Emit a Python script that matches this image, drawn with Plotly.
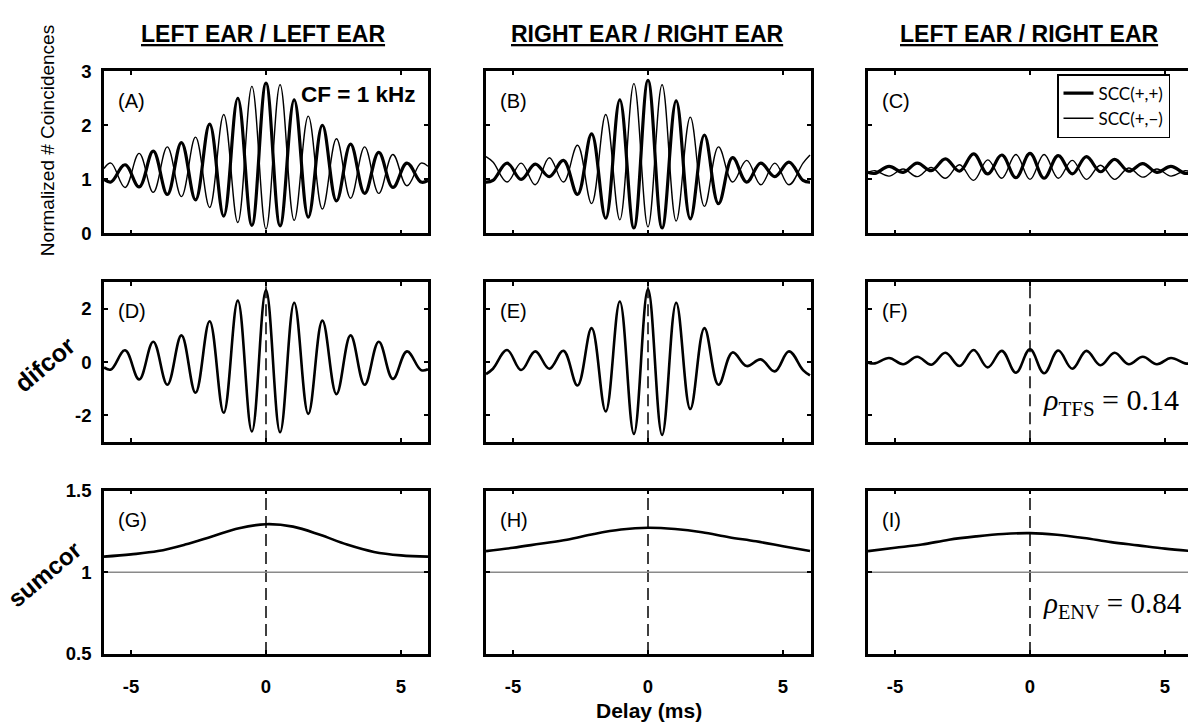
import plotly.graph_objects as go
from plotly.subplots import make_subplots

W, H = 1188, 727

# Delays (ms) at the successive peaks / troughs of the 1-kHz fine structure
DELAY_OSC = [-6.0, -5.742, -5.22, -4.698, -4.176, -3.654, -3.132, -2.61, -2.088, -1.566, -1.044, -0.522, 0.0,
             0.522, 1.044, 1.566, 2.088, 2.61, 3.132, 3.654, 4.176, 4.698, 5.22, 5.742, 6.0]
# Delays (ms) for the slowly varying envelope (sumcor) curves
DELAY_ENV = [-6, -5, -4, -3, -2, -1, 0, 1, 2, 3, 4, 5, 6]

# Shuffled correlograms, normalized # coincidences
SCC_PP_LL = [1.00, 0.95, 1.27, 0.86, 1.52, 0.72, 1.68, 0.62, 2.02, 0.32, 2.50, 0.15, 2.78,
             0.14, 2.47, 0.30, 2.00, 0.60, 1.65, 0.74, 1.50, 0.85, 1.30, 0.95, 0.98]
SCC_PM_LL = [1.20, 1.30, 0.85, 1.48, 0.76, 1.60, 0.68, 1.78, 0.48, 2.20, 0.20, 2.72, 0.08,
             2.75, 0.24, 2.17, 0.45, 1.75, 0.65, 1.60, 0.74, 1.46, 0.88, 1.30, 1.24]
SCC_PP_RR = [0.95, 0.98, 1.30, 1.00, 1.28, 1.05, 1.35, 0.72, 1.84, 0.28, 2.47, 0.10, 2.83,
             0.10, 2.45, 0.27, 1.82, 0.55, 1.40, 0.95, 1.30, 1.05, 1.32, 0.98, 0.95]
SCC_PM_RR = [1.42, 1.32, 0.95, 1.30, 0.90, 1.40, 0.95, 1.63, 0.55, 2.20, 0.25, 2.77, 0.12,
             2.75, 0.23, 2.15, 0.50, 1.60, 0.95, 1.35, 0.90, 1.30, 0.90, 1.30, 1.45]
SCC_PP_LR = [1.13, 1.11, 1.24, 1.13, 1.30, 1.16, 1.38, 1.15, 1.47, 1.10, 1.45, 1.03, 1.48,
             1.02, 1.44, 1.10, 1.42, 1.14, 1.37, 1.15, 1.29, 1.13, 1.24, 1.11, 1.13]
SCC_PM_LR = [1.13, 1.16, 1.06, 1.19, 1.05, 1.22, 1.02, 1.27, 0.98, 1.36, 1.02, 1.46, 1.00,
             1.46, 1.02, 1.35, 1.00, 1.26, 1.00, 1.21, 1.04, 1.19, 1.06, 1.16, 1.13]

# difcor = SCC(+,+) - SCC(+,-)
DIFCOR_LL = [-0.20, -0.28, 0.44, -0.65, 0.76, -0.85, 1.00, -1.15, 1.53, -1.90, 2.30, -2.60, 2.70,
             -2.63, 2.22, -1.94, 1.55, -1.20, 1.00, -0.85, 0.76, -0.63, 0.40, -0.30, -0.27]
DIFCOR_RR = [-0.45, -0.25, 0.45, -0.30, 0.40, -0.25, 0.42, -0.88, 1.27, -1.85, 2.27, -2.69, 2.73,
             -2.73, 2.22, -1.76, 1.27, -0.85, 0.36, -0.15, 0.10, -0.35, 0.40, -0.30, -0.50]
DIFCOR_LR = [-0.02, -0.05, 0.15, -0.08, 0.20, -0.10, 0.35, -0.15, 0.45, -0.20, 0.42, -0.40, 0.48,
             -0.42, 0.43, -0.25, 0.42, -0.12, 0.35, -0.08, 0.20, -0.08, 0.15, -0.05, -0.05]

# sumcor = mean of SCC(+,+) and SCC(+,-) envelopes
SUMCOR_LL = [1.096, 1.11, 1.13, 1.17, 1.22, 1.27, 1.295, 1.28, 1.23, 1.17, 1.125, 1.104, 1.096]
SUMCOR_RR = [1.13, 1.15, 1.175, 1.20, 1.235, 1.262, 1.273, 1.265, 1.245, 1.215, 1.19, 1.16, 1.13]
SUMCOR_LR = [1.13, 1.15, 1.17, 1.20, 1.22, 1.235, 1.24, 1.23, 1.21, 1.185, 1.165, 1.145, 1.13]

COLUMN_TITLES = ["LEFT EAR / LEFT EAR", "RIGHT EAR / RIGHT EAR", "LEFT EAR / RIGHT EAR"]
PANEL_LABELS = [["(A)", "(B)", "(C)"], ["(D)", "(E)", "(F)"], ["(G)", "(H)", "(I)"]]
ROW_TITLES = ["Normalized # Coincidences", "difcor", "sumcor"]
RHO_TFS = 0.14
RHO_ENV = 0.84
CF_TEXT = "CF = 1 kHz"
X_TICKS = [-5, 0, 5]
X_TICKTEXT = ["-5", "0", "5"]
Y_TICKS = [[0, 1, 2, 3], [-2, 0, 2], [0.5, 1, 1.5]]
Y_TICKTEXT = [["0", "1", "2", "3"], ["-2", "0", "2"], ["0.5", "1", "1.5"]]
Y_RANGES = [[0, 3], [-3, 3], [0.5, 1.5]]

# layout in pixels
COL_PX = [(104, 428), (486, 811), (868, W)]
ROW_PX = [(62, 229), (279, 444), (494, 662)]
PX_PER_MS = 324 / 12.0


def fx(px):
    return px / W


def fy(py):
    return 1 - py / H


SANS = "Liberation Sans"
fig = make_subplots(rows=3, cols=3)

scc = [(SCC_PP_LL, SCC_PM_LL), (SCC_PP_RR, SCC_PM_RR), (SCC_PP_LR, SCC_PM_LR)]
for c, (pp, pm) in enumerate(scc):
    fig.add_trace(go.Scatter(x=DELAY_OSC, y=pm, mode="lines", name="SCC(+,\u2212)",
                             line=dict(color="black", width=1.4, shape="spline", smoothing=1.1),
                             showlegend=(c == 0), legendrank=2), row=1, col=c + 1)
    fig.add_trace(go.Scatter(x=DELAY_OSC, y=pp, mode="lines", name="SCC(+,+)",
                             line=dict(color="black", width=3.2, shape="spline", smoothing=1.1),
                             showlegend=(c == 0), legendrank=1), row=1, col=c + 1)

for c, d in enumerate([DIFCOR_LL, DIFCOR_RR, DIFCOR_LR]):
    fig.add_trace(go.Scatter(x=DELAY_OSC, y=d, mode="lines", showlegend=False,
                             line=dict(color="black", width=2.6, shape="spline", smoothing=1.1)),
                  row=2, col=c + 1)

for c, s in enumerate([SUMCOR_LL, SUMCOR_RR, SUMCOR_LR]):
    fig.add_trace(go.Scatter(x=DELAY_ENV, y=s, mode="lines", showlegend=False,
                             line=dict(color="black", width=2.6, shape="spline", smoothing=1.0)),
                  row=3, col=c + 1)

tickfont = dict(family=SANS, size=18.5, color="black", weight="bold")
for r in range(3):
    for c in range(3):
        idx = r * 3 + c + 1
        xa = "xaxis" if idx == 1 else f"xaxis{idx}"
        ya = "yaxis" if idx == 1 else f"yaxis{idx}"
        x0, x1 = COL_PX[c]
        y0, y1 = ROW_PX[r]
        xmax = -6 + (x1 - x0) / PX_PER_MS
        fig.layout[xa].update(
            domain=[fx(x0), fx(x1)], range=[-6, xmax], tickvals=X_TICKS, ticktext=X_TICKTEXT,
            showticklabels=(r == 2), ticks="inside", ticklen=4, tickwidth=2, tickcolor="black",
            showline=True, linewidth=2.5, linecolor="black", mirror="ticks",
            showgrid=False, zeroline=False, tickfont=tickfont, ticklabelstandoff=14)
        fig.layout[ya].update(
            domain=[fy(y1), fy(y0)], range=Y_RANGES[r], tickvals=Y_TICKS[r], ticktext=Y_TICKTEXT[r],
            showticklabels=(c == 0), ticks="inside", ticklen=4, tickwidth=2, tickcolor="black",
            showline=True, linewidth=2.5, linecolor="black", mirror=("ticks" if c < 2 else False),
            showgrid=False, zeroline=False, tickfont=tickfont, ticklabelstandoff=6)

        if r >= 1:
            fig.add_shape(type="line", xref=xa.replace("axis", ""), yref=f"{ya.replace('axis', '')} domain",
                          x0=0, x1=0, y0=0, y1=1, layer="below",
                          line=dict(color="black", width=1.5, dash="12px,6px"))
        if r == 2:
            fig.add_shape(type="line", xref=f"{xa.replace('axis', '')} domain", yref=ya.replace("axis", ""),
                          x0=0, x1=1, y0=1, y1=1, layer="below",
                          line=dict(color="#8a8a8a", width=1.6))

annotations = []
# column headings
for c, t in enumerate(COLUMN_TITLES):
    cx = [263, 647, 1029][c]
    annotations.append(dict(x=fx(cx), y=fy(24), xref="paper", yref="paper", text=f"<b>{t}</b>",
                            showarrow=False, xanchor="center", yanchor="middle",
                            font=dict(family=SANS, size=23, color="black", lineposition="under")))
# panel letters
for r in range(3):
    for c in range(3):
        lx = COL_PX[c][0] + 12
        ly = [93, 309, 524][r]
        annotations.append(dict(x=fx(lx), y=fy(ly), xref="paper", yref="paper", text=PANEL_LABELS[r][c],
                                showarrow=False, xanchor="left", yanchor="middle",
                                font=dict(family=SANS, size=20, color="black")))
# row titles
annotations.append(dict(x=fx(47), y=fy(134), xref="paper", yref="paper", text=ROW_TITLES[0],
                        showarrow=False, textangle=-90, xanchor="center", yanchor="middle",
                        font=dict(family=SANS, size=19, color="black")))
annotations.append(dict(x=fx(45), y=fy(364), xref="paper", yref="paper", text=f"<b>{ROW_TITLES[1]}</b>",
                        showarrow=False, textangle=-40, xanchor="center", yanchor="middle",
                        font=dict(family=SANS, size=25, color="black")))
annotations.append(dict(x=fx(44), y=fy(580), xref="paper", yref="paper", text=f"<b>{ROW_TITLES[2]}</b>",
                        showarrow=False, textangle=-40, xanchor="center", yanchor="middle",
                        font=dict(family=SANS, size=24, color="black")))
# CF label
annotations.append(dict(x=fx(417), y=fy(86), xref="paper", yref="paper", text=f"<b>{CF_TEXT}</b>",
                        showarrow=False, xanchor="right", yanchor="middle",
                        font=dict(family=SANS, size=22.5, color="black")))
# correlation indices
SERIF = "Liberation Serif"
annotations.append(dict(x=fx(1041), y=fy(403), xref="paper", yref="paper",
                        text=f"<i>\u03c1</i><sub>TFS</sub> = {RHO_TFS:.2f}",
                        showarrow=False, xanchor="left", yanchor="middle",
                        font=dict(family=SERIF, size=30, color="black")))
annotations.append(dict(x=fx(1041), y=fy(612), xref="paper", yref="paper",
                        text=f"<i>\u03c1</i><sub>ENV</sub> = {RHO_ENV:.2f}",
                        showarrow=False, xanchor="left", yanchor="middle",
                        font=dict(family=SERIF, size=29, color="black")))
# shared x title
annotations.append(dict(x=fx(649), y=fy(720), xref="paper", yref="paper", text="<b>Delay (ms)</b>",
                        showarrow=False, xanchor="center", yanchor="middle",
                        font=dict(family=SANS, size=21, color="black")))

fig.update_layout(
    width=W, height=H, margin=dict(l=0, r=0, t=0, b=0),
    paper_bgcolor="white", plot_bgcolor="white",
    annotations=annotations,
    legend=dict(x=fx(1057), y=fy(65), xanchor="left", yanchor="top",
                bgcolor="white", bordercolor="black", borderwidth=1.5,
                font=dict(family="Lato", size=17, color="black"),
                tracegroupgap=0, itemwidth=30, traceorder="normal"),
)

fig.write_html("out.html")
